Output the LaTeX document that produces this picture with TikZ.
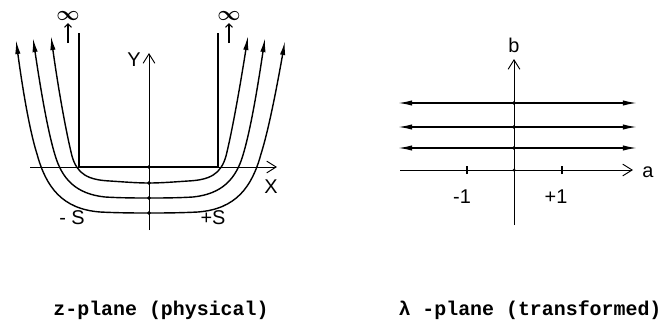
\documentclass[tikz,border=0pt]{standalone}
\usepackage{amsmath}
\usepackage{fontspec}
\setmainfont{Liberation Sans}
\setmonofont{Liberation Mono}
\usetikzlibrary{arrows.meta}
\tikzset{
  axis/.style={line width=0.8pt,-{Straight Barb[length=8pt,width=10pt]}},
  uparrow/.style={line width=0.9pt,-{Straight Barb[length=3pt,width=6pt]}},
  flow/.style={line width=1.2pt,{Latex[length=12pt,width=4.5pt]}-{Latex[length=12pt,width=4.5pt]}},
  plate/.style={line width=2.2pt,line join=miter},
  lbl/.style={font=\fontsize{17}{19}\selectfont,inner sep=1pt},
  infty/.style={font=\fontsize{18}{18}\selectfont,inner sep=2pt},
  captext/.style={font=\ttfamily\bfseries\fontsize{17}{19}\selectfont},
}

\begin{document}
\begin{tikzpicture}[x=0.03cm,y=0.03cm]
\useasboundingbox (0,0) rectangle (663,322);

\coordinate (xw) at (30,155);
\coordinate (xe) at (277,155);
\coordinate (ys) at (149,92);
\coordinate (yn) at (149,269);
\draw[axis] (xw) -- (xe);
\draw[axis] (ys) -- (yn);
\node[lbl] (xlab) at (271,135) {X};
\node[lbl] (ylab) at (134,262) {Y};

\coordinate (ptl) at (79,289);
\coordinate (pbl) at (79,155);
\coordinate (pbr) at (218,155);
\coordinate (ptr) at (218,289);
\draw[plate] (ptl) -- (pbl) -- (pbr) -- (ptr);

\node[infty] (infl) at (68,306) {$\boldsymbol{\infty}$};
\node[infty] (infr) at (229,306) {$\boldsymbol{\infty}$};
\coordinate (upl) at (68,279);
\coordinate (upr) at (229,279);
\draw[uparrow] (upl) -- (infl);
\draw[uparrow] (upr) -- (infr);

\draw[flow] (51,286) .. controls (58,235) and (66,190) .. (72,166)
  .. controls (77,148) and (88,142) .. (110,141)
  .. controls (125,140) and (137,139) .. (149,139)
  .. controls (161,139) and (173,140) .. (188,141)
  .. controls (210,142) and (221,148) .. (226,166)
  .. controls (232,190) and (240,235) .. (248,286);
\draw[flow] (33,284) .. controls (41,230) and (48,190) .. (55,167)
  .. controls (62,143) and (76,128) .. (105,125)
  .. controls (122,124) and (137,124) .. (149,124)
  .. controls (161,124) and (176,124) .. (193,125)
  .. controls (222,128) and (236,143) .. (243,167)
  .. controls (250,190) and (257,230) .. (265,284);
\draw[flow] (16,282) .. controls (23,230) and (30,190) .. (37,168)
  .. controls (46,135) and (62,113) .. (100,110)
  .. controls (120,109) and (137,109) .. (149,109)
  .. controls (161,109) and (178,109) .. (198,110)
  .. controls (236,113) and (252,135) .. (261,168)
  .. controls (268,190) and (276,230) .. (285,281);

\filldraw[black] (149,155) circle (1.3pt);
\filldraw[black] (149,139) circle (1.3pt);
\filldraw[black] (149,124) circle (1.3pt);
\filldraw[black] (149,109) circle (1.3pt);
\node[lbl] (sneg) at (72,104) {- S};
\node[lbl] (spos) at (213,104) {+S};

\coordinate (aw) at (400,152);
\coordinate (ae) at (633,152);
\coordinate (bs) at (514,97);
\coordinate (bn) at (514,263);
\draw[axis] (aw) -- (ae);
\draw[axis] (bs) -- (bn);
\node[lbl] (alab) at (648,150) {a};
\node[lbl] (blab) at (514,277) {b};
\draw[line width=0.9pt] (467,148) -- (467,156);
\draw[line width=0.9pt] (562,148) -- (562,156);
\filldraw[black] (514,152) circle (1pt);
\node[lbl] (mone) at (462,125) {-1};
\node[lbl] (pone) at (556,125) {+1};

\foreach \y/\n in {219/1,195/2,174/3} {
  \coordinate (w\n) at (398,\y);
  \coordinate (e\n) at (637,\y);
  \draw[flow] (w\n) -- (e\n);
  \filldraw[black] (514,\y) circle (1.3pt);
}

\node[captext] (zcap) at (161,12) {z-plane (physical)};
\node[captext] (lcap) at (530,12) {λ -plane (transformed)};
\end{tikzpicture}
\end{document}
